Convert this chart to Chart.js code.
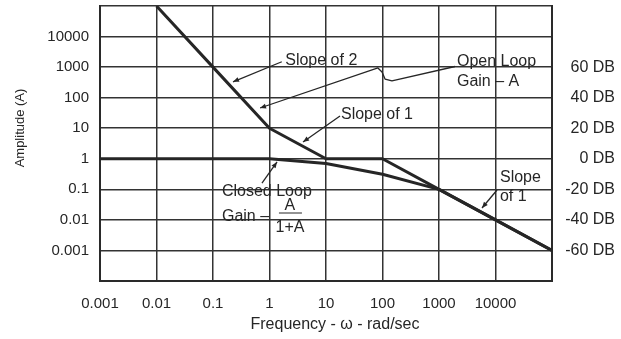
<!DOCTYPE html>
<html>
<head>
<meta charset="utf-8">
<script src="https://cdn.jsdelivr.net/npm/chart.js@4.4.1/dist/chart.umd.min.js"></script>
<style>
  html, body { margin: 0; padding: 0; background: #fff; }
  canvas { display: block; }
</style>
</head>
<body>
<canvas id="bode" width="621" height="339"></canvas>
<script>
// decades on both axes
const freqTicks = [0.001, 0.01, 0.1, 1, 10, 100, 1000, 10000, 100000];
const ampTicks = [0.0001, 0.001, 0.01, 0.1, 1, 10, 100, 1000, 10000, 100000];
const dbTicks = [0.001, 0.01, 0.1, 1, 10, 100, 1000];

// open loop gain A
const openFreq = [0.01, 0.1, 1, 10, 100, 1000, 10000, 100000];
const openGain = [100000, 1000, 10, 1, 1, 0.1, 0.01, 0.001];

// closed loop gain A/(1+A)
const closedFreq = [0.001, 0.01, 0.1, 1, 10, 100, 1000, 10000, 100000];
const closedGain = [1, 1, 1, 1, 0.7, 0.31, 0.1, 0.01, 0.001];

const INK = "#262626";
const FONT = '"Liberation Sans", Arial, Helvetica, sans-serif';

// callouts, placed in [freq, amplitude]
const notes = [
  { text: "Slope of 2", at: [1.9, 1600] },
  { text: "Open Loop", at: [2080, 1470] },
  { text: "Gain \u2013 A", at: [2080, 326] },
  { text: "Slope of 1", at: [18.4, 27] },
  { text: "Closed Loop", at: [0.144, 0.082] },
  { text: "Gain \u2013", at: [0.144, 0.0125] },
  { text: "Slope", at: [12000, 0.236] },
  { text: "of 1", at: [12000, 0.056] },
];
const fraction = { freq: 2.3, top: 0.0285, bar: 0.0168, bottom: 0.0055 };
const leaders = [
  [[1.65, 1500], [0.226, 330]],
  [[1920, 1047], [147, 352], [111, 408], [98, 692], [83, 936], [0.68, 45.9]],
  [[17.7, 25], [3.92, 3.55]],
  [[0.736, 0.161], [1.36, 0.785]],
  [[10640, 0.0953], [5770, 0.0245]],
];

function toPoints(xs, ys) {
  return xs.map((x, i) => ({ x: x, y: ys[i] }));
}

function decades(list) {
  return (scale) => {
    scale.ticks = list.map((v) => ({ value: v }));
  };
}

// keep the plot box flush with the fixed axis sizes
function fixSize(w, h) {
  return (s) => {
    if (w !== null) s.width = w;
    if (h !== null) s.height = h;
    s.paddingTop = 0;
    s.paddingBottom = 0;
    s.paddingLeft = 0;
    s.paddingRight = 0;
  };
}

const callouts = {
  id: "callouts",
  afterDraw(chart) {
    const ctx = chart.ctx;
    const xs = chart.scales.x;
    const ys = chart.scales.y;
    const px = (p) => [xs.getPixelForValue(p[0]), ys.getPixelForValue(p[1])];

    ctx.save();
    ctx.fillStyle = INK;
    ctx.strokeStyle = INK;
    ctx.font = "16px " + FONT;
    ctx.textBaseline = "middle";
    ctx.textAlign = "left";
    notes.forEach((n) => {
      const p = px(n.at);
      ctx.fillText(n.text, p[0], p[1]);
    });

    // A over 1+A
    ctx.textAlign = "center";
    const fx = xs.getPixelForValue(fraction.freq);
    ctx.fillText("A", fx, ys.getPixelForValue(fraction.top));
    ctx.fillText("1+A", fx, ys.getPixelForValue(fraction.bottom));
    const by = ys.getPixelForValue(fraction.bar);
    ctx.lineWidth = 1;
    ctx.beginPath();
    ctx.moveTo(fx - 11, by);
    ctx.lineTo(fx + 12, by);
    ctx.stroke();

    // leader lines with small arrow heads
    ctx.lineWidth = 1.3;
    ctx.lineJoin = "round";
    leaders.forEach((pts) => {
      const p = pts.map(px);
      ctx.beginPath();
      ctx.moveTo(p[0][0], p[0][1]);
      for (let i = 1; i < p.length; i++) ctx.lineTo(p[i][0], p[i][1]);
      ctx.stroke();
      const a = p[p.length - 2];
      const b = p[p.length - 1];
      const ang = Math.atan2(b[1] - a[1], b[0] - a[0]);
      ctx.beginPath();
      ctx.moveTo(b[0], b[1]);
      ctx.lineTo(b[0] - 6 * Math.cos(ang) + 2.5 * Math.sin(ang), b[1] - 6 * Math.sin(ang) - 2.5 * Math.cos(ang));
      ctx.lineTo(b[0] - 6 * Math.cos(ang) - 2.5 * Math.sin(ang), b[1] - 6 * Math.sin(ang) + 2.5 * Math.cos(ang));
      ctx.closePath();
      ctx.fill();
    });

    // axis titles
    ctx.textAlign = "center";
    ctx.font = "16px " + FONT;
    ctx.fillText("Frequency - \u03c9 - rad/sec", 335, 325);
    ctx.translate(20, 128);
    ctx.rotate(-Math.PI / 2);
    ctx.font = "13px " + FONT;
    ctx.fillText("Amplitude (A)", 0, 0);
    ctx.restore();
  },
};

const gridStyle = { color: "#333", lineWidth: 1.5, drawTicks: false };
const borderStyle = { color: "#2a2a2a", width: 2 };
const lineStyle = {
  borderColor: INK,
  backgroundColor: INK,
  borderWidth: 3,
  pointRadius: 0,
  tension: 0,
  fill: false,
  borderCapStyle: "butt",
  borderJoinStyle: "round",
};

new Chart(document.getElementById("bode").getContext("2d"), {
  type: "line",
  data: {
    datasets: [
      Object.assign({ label: "Open Loop Gain", data: toPoints(openFreq, openGain) }, lineStyle),
      Object.assign({ label: "Closed Loop Gain", data: toPoints(closedFreq, closedGain) }, lineStyle),
    ],
  },
  options: {
    responsive: false,
    animation: false,
    layout: { padding: { top: 6, right: 6, left: 0, bottom: 0 } },
    plugins: {
      legend: { display: false },
      tooltip: { enabled: false },
      colors: { enabled: false },
    },
    scales: {
      x: {
        type: "logarithmic",
        min: 0.001,
        max: 100000,
        afterBuildTicks: decades(freqTicks),
        afterFit: fixSize(null, 58),
        grid: gridStyle,
        border: borderStyle,
        ticks: {
          color: INK,
          font: { family: FONT, size: 15 },
          padding: 14,
          maxRotation: 0,
          autoSkip: false,
          callback: (v) => (v >= 100000 ? "" : String(v)),
        },
      },
      y: {
        type: "logarithmic",
        position: "left",
        min: 0.0001,
        max: 100000,
        afterBuildTicks: decades(ampTicks),
        afterFit: fixSize(100, null),
        grid: gridStyle,
        border: borderStyle,
        ticks: {
          color: INK,
          font: { family: FONT, size: 15 },
          padding: 11,
          autoSkip: false,
          callback: (v) => (v >= 100000 || v <= 0.0001 ? "" : String(v)),
        },
      },
      db: {
        type: "logarithmic",
        position: "right",
        min: 0.0001,
        max: 100000,
        afterBuildTicks: decades(dbTicks),
        afterFit: fixSize(63, null),
        grid: { display: false, drawTicks: false },
        border: borderStyle,
        ticks: {
          color: INK,
          font: { family: FONT, size: 16 },
          crossAlign: "far",
          autoSkip: false,
          callback: (v) => Math.round(20 * Math.log10(v)) + " DB",
        },
      },
    },
  },
  plugins: [callouts],
});
</script>
</body>
</html>
